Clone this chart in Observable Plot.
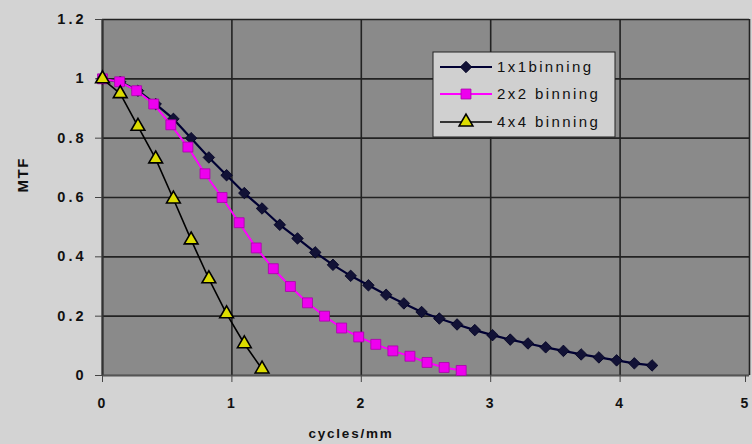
<!DOCTYPE html>
<html><head><meta charset="utf-8">
<script src="https://cdn.jsdelivr.net/npm/d3@7"></script>
<script src="https://cdn.jsdelivr.net/npm/@observablehq/plot@0.6"></script>
<style>
html,body{margin:0;padding:0;background:#d3d3d3;}
#chart svg [aria-label="y-axis tick label"] text{letter-spacing:3px;}
#chart svg [aria-label="x-axis tick label"] text{letter-spacing:2px;}
#chart svg .xlab{letter-spacing:1.8px;}
#chart svg .ylab{letter-spacing:1.5px;}
#chart svg .leg text{letter-spacing:2.4px;}
</style></head><body><div id="chart"></div>
<script>
const seriesNames = ["1x1binning", "2x2 binning", "4x4 binning"];

const freq1 = [0, 0.137, 0.274, 0.411, 0.548, 0.685, 0.822, 0.959, 1.096, 1.233, 1.37, 1.507, 1.644, 1.781, 1.918, 2.055, 2.192, 2.329, 2.466, 2.603, 2.74, 2.877, 3.014, 3.151, 3.288, 3.425, 3.562, 3.699, 3.836, 3.973, 4.11, 4.247];
const mtf1  = [1.0, 0.99, 0.96, 0.915, 0.865, 0.80, 0.735, 0.675, 0.615, 0.563, 0.508, 0.462, 0.415, 0.373, 0.336, 0.304, 0.272, 0.243, 0.214, 0.192, 0.172, 0.153, 0.136, 0.121, 0.108, 0.095, 0.083, 0.071, 0.061, 0.051, 0.041, 0.034];

const freq2 = [0, 0.132, 0.264, 0.396, 0.528, 0.66, 0.792, 0.924, 1.056, 1.188, 1.32, 1.452, 1.584, 1.716, 1.848, 1.98, 2.112, 2.244, 2.376, 2.508, 2.64, 2.772];
const mtf2  = [1.0, 0.99, 0.96, 0.915, 0.845, 0.77, 0.68, 0.60, 0.515, 0.43, 0.36, 0.30, 0.245, 0.20, 0.16, 0.13, 0.105, 0.083, 0.065, 0.044, 0.027, 0.017];

const freq4 = [0, 0.137, 0.274, 0.411, 0.548, 0.685, 0.822, 0.959, 1.096, 1.233];
const mtf4  = [1.0, 0.95, 0.84, 0.73, 0.595, 0.457, 0.326, 0.208, 0.107, 0.022];

const xTicks = [0, 1, 2, 3, 4];
const xTickEnd = [5];
const yTicks = [0, 0.2, 0.4, 0.6, 0.8, 1, 1.2];
const yTickLabels = ["0", "0.2", "0.4", "0.6", "0.8", "1", "1.2"];
const xLabel = "cycles/mm";
const yLabel = "MTF";

const toRows = (name, fs, ms) => fs.map((f, i) => ({series: name, f, m: ms[i]}));
const s1 = toRows(seriesNames[0], freq1, mtf1);
const s2 = toRows(seriesNames[1], freq2, mtf2);
const s4 = toRows(seriesNames[2], freq4, mtf4);

const styles = [
  {line: "#000033", lw: 2.2, symbol: "diamond2", r: 5.2, fill: "#121236", stroke: "#000022", sw: 0.8},
  {line: "#ff00ff", lw: 2, symbol: "square", r: 5.6, fill: "#ee00ee", stroke: "#aa00aa", sw: 0.8},
  {line: "#000000", lw: 1.6, symbol: "triangle", r: 5.1, fill: "#dcdc00", stroke: "#000000", sw: 1.6}
];

function legend() {
  return (index, scales, values, dims) => {
    const g = d3.create("svg:g").attr("class", "leg");
    const x0 = 433, y0 = 52, w = 182, h = 85;
    g.append("rect").attr("x", x0).attr("y", y0).attr("width", w).attr("height", h)
      .attr("fill", "#d0d0d0").attr("stroke", "#222").attr("stroke-width", 1);
    const rowsY = [67, 94, 122];
    seriesNames.forEach((name, i) => {
      const st = styles[i], y = rowsY[i];
      g.append("line").attr("x1", 440).attr("x2", 492).attr("y1", y).attr("y2", y)
        .attr("stroke", st.line).attr("stroke-width", st.lw);
      const sym = {diamond2: d3.symbolDiamond2, square: d3.symbolSquare, triangle: d3.symbolTriangle}[st.symbol];
      g.append("path").attr("d", d3.symbol(sym, Math.PI * st.r * st.r)())
        .attr("transform", `translate(466,${y})`)
        .attr("fill", st.fill).attr("stroke", st.stroke).attr("stroke-width", st.sw);
      g.append("text").attr("x", 497).attr("y", y).attr("dy", "0.36em")
        .attr("text-anchor", "start")
        .attr("font-size", 15).attr("font-weight", "normal").attr("fill", "#111")
        .text(name);
    });
    return g.node();
  };
}

const seriesData = [s1, s2, s4];
const dataMarks = seriesData.flatMap((d, i) => [
  Plot.line(d, {x: "f", y: "m", stroke: styles[i].line, strokeWidth: styles[i].lw}),
  Plot.dot(d, {x: "f", y: "m", symbol: () => styles[i].symbol, r: styles[i].r,
    fill: styles[i].fill, stroke: styles[i].stroke, strokeWidth: styles[i].sw})
]);

const axisOpts = {tickSize: 7, tickPadding: 16, stroke: "#444", fontSize: 14, fontWeight: "bold", label: null, tickFormat: (d) => String(d)};

const chart = Plot.plot({
  width: 752,
  height: 444,
  marginLeft: 102,
  marginRight: 3,
  marginTop: 19,
  marginBottom: 69,
  style: {background: "#d3d3d3", fontFamily: "'Liberation Sans', Arial, sans-serif", color: "#111"},
  x: {domain: [0, 5]},
  y: {domain: [0, 1.2]},
  symbol: {type: "identity"},
  marks: [
    Plot.frame({fill: "#8a8a8a", stroke: null}),
    Plot.gridX([...xTicks, ...xTickEnd], {stroke: "#222", strokeOpacity: 1, strokeWidth: 1.6}),
    Plot.gridY(yTicks, {stroke: "#222", strokeOpacity: 1, strokeWidth: 1.6}),
    Plot.ruleX([0], {stroke: "#333", strokeWidth: 2}),
    Plot.ruleY([0], {stroke: "#555", strokeWidth: 1.5}),
    Plot.axisY(yTicks, {tickSize: 7, tickPadding: 9, stroke: "#444", fontSize: 14.5, fontWeight: "bold",
      tickFormat: (d) => yTickLabels[yTicks.indexOf(d)], label: null}),
    Plot.axisX(xTicks, axisOpts),
    Plot.axisX(xTickEnd, {...axisOpts, dx: -4}),
    Plot.text([xLabel], {frameAnchor: "bottom", dx: -75, dy: 62, fontSize: 13.5, fontWeight: "bold", fill: "#111", className: "xlab"}),
    Plot.text([yLabel], {frameAnchor: "left", dx: -79, dy: -5, rotate: -90, fontSize: 15, fontWeight: "bold", fill: "#111", className: "ylab"}),
    ...dataMarks,
    legend()
  ]
});
document.getElementById("chart").appendChild(chart);
</script></body></html>
